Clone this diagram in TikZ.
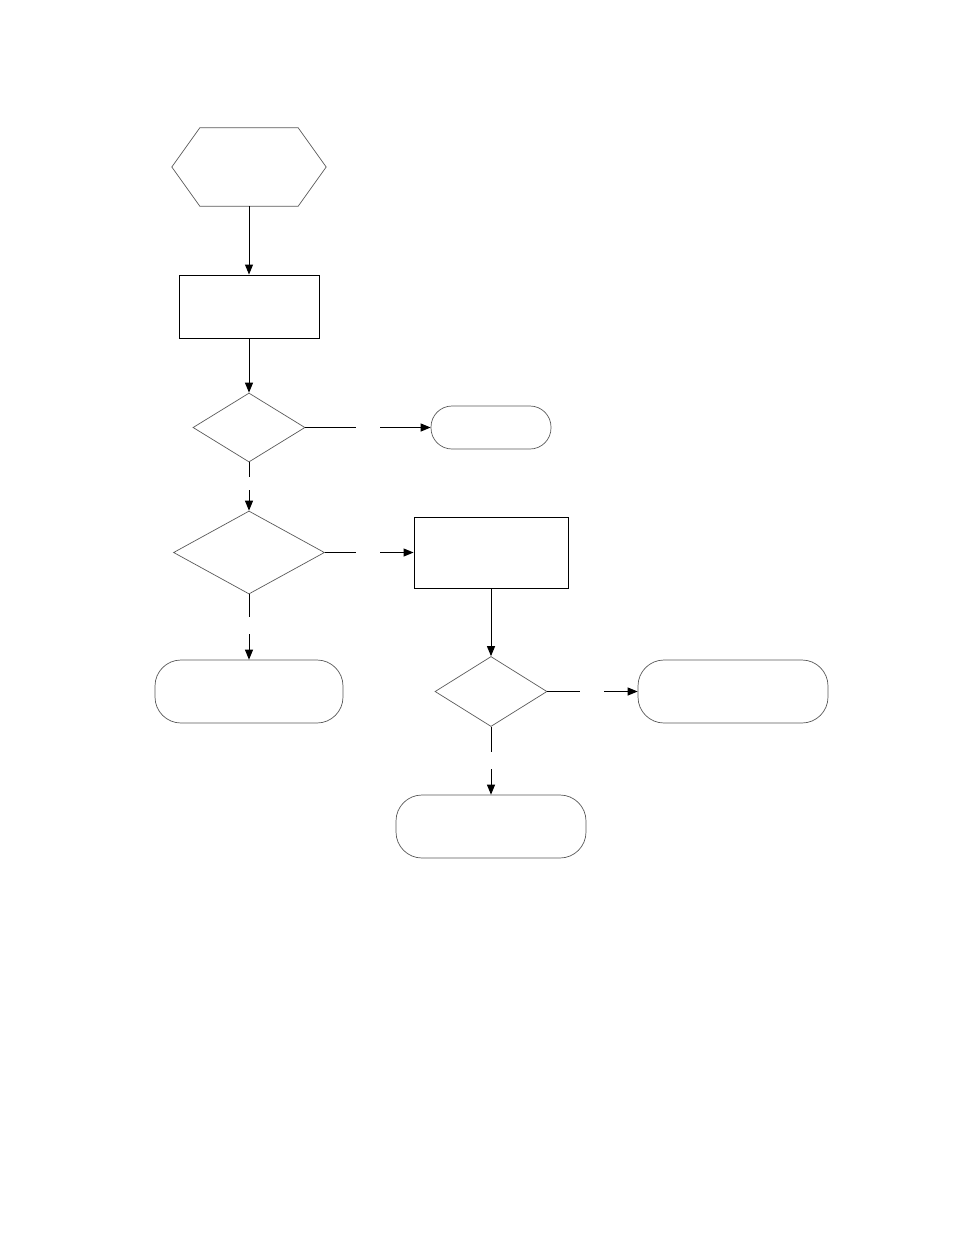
\documentclass[tikz,border=0pt]{standalone}
\usetikzlibrary{shapes.geometric,arrows.meta}
\begin{document}
\begin{tikzpicture}[x=1pt,y=-1pt,
  thinshape/.style={draw=black!65,line width=0.7pt,inner sep=0pt},
  boxshape/.style={draw=black,line width=0.9pt,inner sep=0pt},
  terminal/.style={thinshape,rectangle,rounded corners=26pt},
  conn/.style={draw=black,line width=1pt},
  arr/.style={conn,-{Triangle[length=10pt,width=8pt]}}]
\useasboundingbox (0,0) rectangle (954,1235);
% hexagon start
\node[minimum width=154pt,minimum height=78pt,inner sep=0pt] (hex) at (249,167) {};
\draw[draw=black!65,line width=0.7pt] (hex.west) -- ([xshift=28pt]hex.north west) -- ([xshift=-28pt]hex.north east) -- (hex.east) -- ([xshift=-28pt]hex.south east) -- ([xshift=28pt]hex.south west) -- cycle;
% process boxes
\node[boxshape,minimum width=140pt,minimum height=63pt] (r1) at (249,306.5) {};
\node[boxshape,minimum width=154pt,minimum height=71pt] (r2) at (491,552.5) {};
% decisions
\node[thinshape,diamond,minimum width=112pt,minimum height=69pt] (d1) at (249,427.5) {};
\node[thinshape,diamond,minimum width=151pt,minimum height=83pt] (d2) at (249,552.5) {};
\node[thinshape,diamond,minimum width=112pt,minimum height=70pt] (d3) at (491,691.5) {};
% terminals
\node[terminal,minimum width=120pt,minimum height=43pt,rounded corners=21pt] (t1) at (491,427.5) {};
\node[terminal,minimum width=188pt,minimum height=63pt] (t2) at (249,691.5) {};
\node[terminal,minimum width=190pt,minimum height=63pt] (t3) at (733,691.5) {};
\node[terminal,minimum width=190pt,minimum height=63pt] (t4) at (491,826.5) {};
% gap coordinates
\coordinate (g1a) at (356,427.5); \coordinate (g1b) at (380,427.5);
\coordinate (g2a) at (249,477);   \coordinate (g2b) at (249,490);
\coordinate (g3a) at (356,552.5); \coordinate (g3b) at (380,552.5);
\coordinate (g4a) at (249,617);   \coordinate (g4b) at (249,634);
\coordinate (g5a) at (580,691.5); \coordinate (g5b) at (604,691.5);
\coordinate (g6a) at (491,752);   \coordinate (g6b) at (491,769);
% connectors
\draw[arr] (hex.south) -- (r1.north);
\draw[arr] (r1.south) -- (d1.north);
\draw[conn] (d1.east) -- (g1a);
\draw[arr] (g1b) -- (t1.west);
\draw[conn] (d1.south) -- (g2a);
\draw[arr] (g2b) -- (d2.north);
\draw[conn] (d2.east) -- (g3a);
\draw[arr] (g3b) -- (r2.west);
\draw[conn] (d2.south) -- (g4a);
\draw[arr] (g4b) -- (t2.north);
\draw[arr] (r2.south) -- (d3.north);
\draw[conn] (d3.east) -- (g5a);
\draw[arr] (g5b) -- (t3.west);
\draw[conn] (d3.south) -- (g6a);
\draw[arr] (g6b) -- (t4.north);
\end{tikzpicture}
\end{document}
